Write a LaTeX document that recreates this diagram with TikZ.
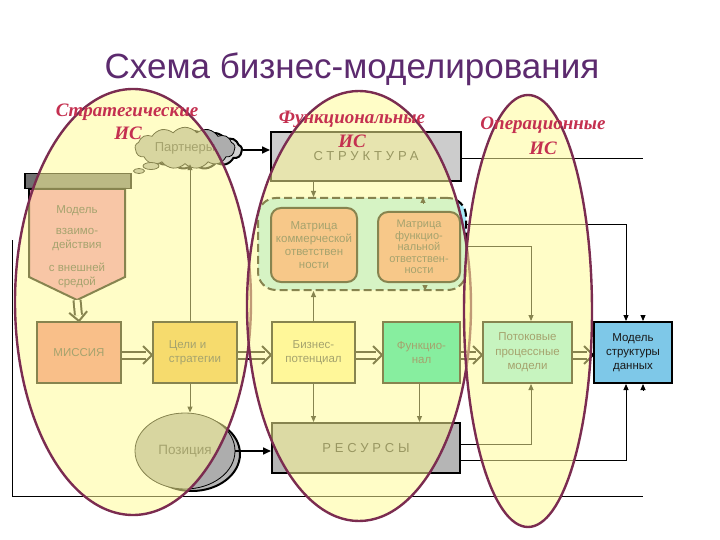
\documentclass[tikz,border=0pt]{standalone}
\usepackage{fontspec}
\setmainfont{Liberation Sans}
\newfontfamily\labfont{Liberation Serif}
\usetikzlibrary{shapes.symbols,shapes.geometric,arrows.meta,calc}
\definecolor{titlec}{RGB}{92,42,110}
\definecolor{labc}{RGB}{196,48,80}
\definecolor{ellc}{RGB}{123,44,80}
\definecolor{ovl}{RGB}{255,251,150}
\definecolor{missc}{RGB}{244,124,124}
\definecolor{modc}{RGB}{242,139,186}
\definecolor{goalc}{RGB}{236,184,64}
\definecolor{bizc}{RGB}{255,244,158}
\definecolor{funcc}{RGB}{0,224,170}
\definecolor{matc}{RGB}{240,143,124}
\definecolor{regc}{RGB}{168,234,248}
\definecolor{flowc}{RGB}{138,237,239}
\definecolor{datac}{RGB}{126,200,232}
\tikzset{
  txt/.style={text=black!75, font=\fontsize{11.5}{14}\selectfont, inner sep=0pt},
  box/.style={draw=black, line width=2pt, inner sep=1pt, align=center,
    text=black!75, font=\fontsize{11.5}{14.5}\selectfont},
  rbox/.style={box, rounded corners=10pt},
  thinarr/.style={line width=0.9pt, -{Triangle[length=6pt,width=5pt]}},
  headonly/.style={line width=0.9pt, -{Triangle[length=6pt,width=5pt]}},
  boldarr/.style={line width=1.6pt, -{Triangle[length=8pt,width=7pt]}},
  dblline/.style={line width=2pt, double=white, double distance=5pt},
  dblhead/.style={line width=2pt, line join=miter},
  plain/.style={line width=0.9pt},
  ovall/.style={fill=ovl, fill opacity=0.53, draw=ellc, draw opacity=1, line width=2.4pt},
  lab/.style={text=labc, font=\labfont\bfseries\itshape\fontsize{19}{21}\selectfont, inner sep=0pt},
  spaced/.style={text=black!85, font=\fontsize{13}{15}\selectfont\addfontfeatures{LetterSpace=30}}
}
\newcommand\dblar[2]{%
  \draw[dblline] (#1) -- ($(#2)!6pt!(#1)$);
  \draw[dblhead] ($($(#2)!9pt!(#1)$)!9pt!90:(#2)$) -- (#2) -- ($($(#2)!9pt!(#1)$)!9pt!-90:(#2)$);
}
\begin{document}
\begin{tikzpicture}[x=1pt,y=-1pt]
\useasboundingbox (0,0) rectangle (720,540);

\node[font=\fontsize{35}{40}\selectfont, text=titlec] (title) at (352,69) {Схема бизнес-моделирования};

% outer frame
\coordinate (fl1) at (12,240);
\coordinate (fl2) at (12,496);
\coordinate (fl3) at (643,496);
\draw[plain] (fl1) -- (fl2) -- (fl3);

% bar and pentagon
\node[draw, line width=1.5pt, fill=black!56, minimum width=106pt, minimum height=15pt, inner sep=0pt] (bar) at (78,181) {};
\draw[line width=2pt, fill=modc] (29,189) -- (125,189) -- (125,277) -- (77,300) -- (29,277) -- cycle;
\coordinate (modtip) at (77,300);
\node[txt, align=center] (modtext) at (77,247) {Модель\\[7pt]взаимо-\\действия\\[9pt]с внешней\\средой};

% partners cloud
\node[cloud, cloud puffs=13, cloud puff arc=100, aspect=2.6, draw, line width=2pt, fill=black!18, minimum width=96pt, minimum height=38pt, inner sep=0pt] (pshadow) at (194,150) {};
\node[cloud, cloud puffs=13, cloud puff arc=100, aspect=2.6, draw, line width=0.8pt, fill=black!32, minimum width=100pt, minimum height=40pt, inner sep=0pt, text=black!75, font=\fontsize{13}{15}\selectfont] (partners) at (185,148) {Партнеры};
\node[ellipse, draw, line width=0.8pt, fill=black!32, minimum width=11pt, minimum height=5pt, inner sep=0pt] (bub1) at (139,171) {};
\node[ellipse, draw, line width=0.8pt, fill=black!32, minimum width=16pt, minimum height=7pt, inner sep=0pt] (bub2) at (151,166) {};

% structure
\node[box, fill=black!20, minimum width=190pt, minimum height=49pt, spaced] (struct) at (366,156.5) {СТРУКТУРА};
\coordinate (sr) at (643,158);
\draw[plain] (struct.east |- sr) -- (sr);
\draw[boldarr] (pshadow.east) -- (struct.west |- pshadow.east);

% region with matrices
\node[draw=black, line width=2pt, dashed, dash pattern=on 8pt off 4pt, rounded corners=18pt, fill=regc, minimum width=208pt, minimum height=92pt, inner sep=0pt] (region) at (362,244) {};
\node[rbox, fill=matc, minimum width=86pt, minimum height=74pt, font=\fontsize{11.5}{13}\selectfont] (mat1) at (314,245) {Матрица\\коммерческой\\ответствен\\ности};
\node[rbox, fill=matc, minimum width=82pt, minimum height=70pt, font=\fontsize{11}{11.5}\selectfont] (mat2) at (419,247) {Матрица\\функцио-\\нальной\\ответствен-\\ности};

% row of boxes
\node[box, fill=missc, minimum width=84pt, minimum height=61pt] (miss) at (79,352.5) {МИССИЯ};
\node[box, fill=goalc, minimum width=84pt, minimum height=61pt, align=left] (goals) at (195,352.5) {Цели и\\стратегии};
\node[box, fill=bizc, minimum width=83pt, minimum height=61pt] (biz) at (313.5,352.5) {Бизнес-\\потенциал};
\node[box, fill=funcc, minimum width=77pt, minimum height=61pt] (func) at (421.5,352.5) {Функцио-\\нал};
\node[box, fill=flowc, minimum width=89pt, minimum height=61pt] (flow) at (527.5,352.5) {Потоковые\\процессные\\модели};
\node[box, fill=datac, text=black!90, minimum width=78pt, minimum height=61pt, font=\fontsize{11.5}{14}\selectfont] (data) at (633,352.5) {Модель\\структуры\\данных};

% position ellipse
\node[ellipse, draw, line width=2pt, fill=black!29, minimum width=96pt, minimum height=74pt, inner sep=0pt] (posshadow) at (192,454) {};
\node[ellipse, draw, line width=0.8pt, fill=black!32, minimum width=100pt, minimum height=76pt, inner sep=0pt, text=black!75, font=\fontsize{13.5}{15}\selectfont] (pos) at (185,451) {Позиция};

% resources
\node[box, fill=black!29, minimum width=188pt, minimum height=50pt, spaced] (res) at (366,448) {РЕСУРСЫ};
\draw[boldarr] (pos.east) -- (res.west |- pos.east);

% double arrows
\dblar{modtip}{miss.north}
\dblar{miss.east |- 0,355}{goals.west |- 0,355}
\dblar{goals.east |- 0,355}{biz.west |- 0,355}
\dblar{biz.east |- 0,355}{func.west |- 0,355}
\dblar{func.east |- 0,355}{flow.west |- 0,355}
\dblar{flow.east |- 0,355}{data.west |- 0,355}

% thin arrows
\draw[thinarr] ([xshift=-5pt]goals.north) -- ([xshift=-5pt]goals.north |- partners.south);
\draw[thinarr] ([xshift=-5pt]goals.south) -- ([xshift=-5pt]goals.south |- pos.north);
\draw[thinarr] (struct.south -| biz.north) -- (region.north -| biz.north);
\draw[headonly] ([yshift=-6pt]region.north -| 423,0) -- (region.north -| 423,0);
\draw[thinarr] (biz.north) -- (region.south -| biz.north);
\draw[headonly] ([yshift=6pt]region.south -| 425,0) -- (region.south -| 425,0);
\draw[thinarr] (biz.south) -- (res.north -| biz.south);
\draw[thinarr] ([xshift=-2pt]func.south) -- ([xshift=-2pt]func.south |- res.north);

% right side connections
\draw[thinarr] ([yshift=20pt]region.east) -| ([xshift=-7pt]data.north);
\draw[thinarr] ([yshift=-2pt]region.east) -| ([xshift=3.5pt]flow.north);
\draw[thinarr] ([yshift=4pt]res.east) -| ([xshift=3.5pt]flow.south);
\draw[thinarr] ([yshift=-12pt]res.east) -| ([xshift=-7pt]data.south);
\draw[headonly] ([xshift=10pt,yshift=6pt]data.north) -- ([xshift=10pt]data.north);
\draw[headonly] ([xshift=10pt,yshift=-6pt]data.south) -- ([xshift=10pt]data.south);

% overlay ellipses
\node[ellipse, ovall, minimum width=236pt, minimum height=426pt, inner sep=0pt] (e1) at (133,302) {};
\node[ellipse, ovall, minimum width=224pt, minimum height=430pt, inner sep=0pt] (e2) at (359,306) {};
\node[ellipse, ovall, minimum width=128pt, minimum height=432pt, inner sep=0pt] (e3) at (528,311) {};

% labels
\node[lab] (l1a) at (127,112) {Стратегические};
\node[lab] (l1b) at (128,133) {ИС};
\node[lab] (l2a) at (352,119) {Функциональные};
\node[lab] (l2b) at (352,141) {ИС};
\node[lab] (l3a) at (543,125) {Операционные};
\node[lab] (l3b) at (543,148) {ИС};
\end{tikzpicture}
\end{document}
